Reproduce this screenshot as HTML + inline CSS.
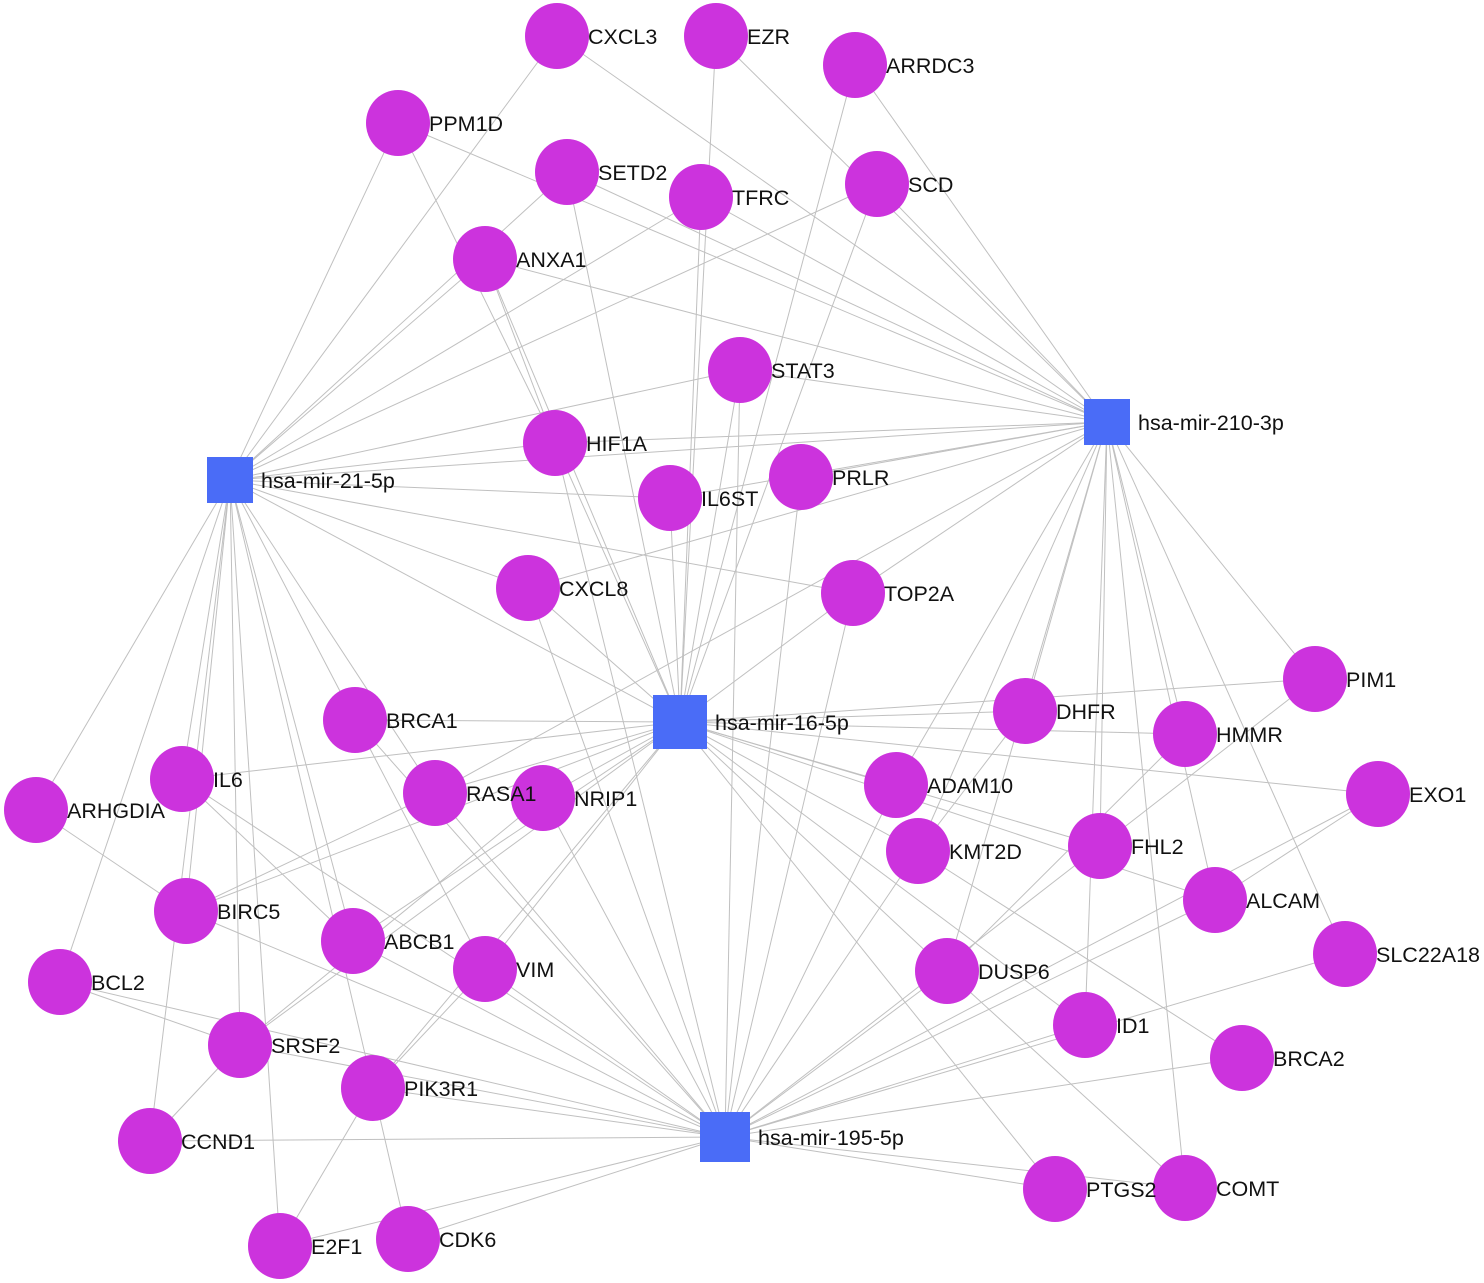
<!DOCTYPE html>
<html><head><meta charset="utf-8"><style>
html,body{margin:0;padding:0;background:#fff}
svg{display:block}
text{font-family:"Liberation Sans",Arial,sans-serif;font-size:21.5px;fill:#111}
</style></head><body>
<svg id="s" width="1484" height="1283" xmlns="http://www.w3.org/2000/svg">
<g id="edges" stroke="#c0c0c0" stroke-width="1" fill="none"></g>
<g id="nodes"></g>
</svg>
<script>
var N={CXCL3:[557,36],EZR:[716,36],ARRDC3:[855,65],PPM1D:[398,123],SETD2:[567,172],TFRC:[701,197],SCD:[877,184],ANXA1:[485,259],STAT3:[740,370],HIF1A:[555,443],IL6ST:[670,498],PRLR:[801,477],CXCL8:[528,588],TOP2A:[853,593],BRCA1:[355,720],DHFR:[1025,711],PIM1:[1315,679],HMMR:[1185,734],IL6:[182,779],ARHGDIA:[36,810],RASA1:[435,793],NRIP1:[543,798],ADAM10:[896,785],EXO1:[1378,794],KMT2D:[918,851],FHL2:[1100,846],BIRC5:[186,911],ALCAM:[1215,900],SLC22A18:[1345,954],ABCB1:[353,941],VIM:[485,969],DUSP6:[947,971],BCL2:[60,982],ID1:[1085,1025],BRCA2:[1242,1058],SRSF2:[240,1045],PIK3R1:[373,1088],CCND1:[150,1141],PTGS2:[1055,1189],COMT:[1185,1188],E2F1:[280,1246],CDK6:[408,1239]};
var H={"hsa-mir-21-5p":[230,480,46],"hsa-mir-210-3p":[1107,422,46],"hsa-mir-16-5p":[680,722,54],"hsa-mir-195-5p":[725,1137,50]};
var E={"hsa-mir-21-5p":"CXCL3 PPM1D SETD2 TFRC SCD ANXA1 STAT3 HIF1A IL6ST CXCL8 TOP2A BRCA1 RASA1 IL6 ARHGDIA BIRC5 BCL2 ABCB1 SRSF2 PIK3R1 CCND1 E2F1",
"hsa-mir-210-3p":"ARRDC3 SCD CXCL3 EZR PPM1D SETD2 TFRC ANXA1 STAT3 HIF1A IL6ST PRLR TOP2A DHFR PIM1 HMMR FHL2 ALCAM SLC22A18 ID1 COMT KMT2D ADAM10 DUSP6 RASA1 CXCL8 hsa-mir-21-5p",
"hsa-mir-16-5p":"SETD2 TFRC EZR STAT3 HIF1A IL6ST ANXA1 CXCL8 TOP2A BRCA1 IL6 RASA1 NRIP1 ADAM10 DHFR PIM1 HMMR EXO1 KMT2D FHL2 ALCAM DUSP6 ID1 PTGS2 VIM ABCB1 SRSF2 BIRC5 PIK3R1 SCD hsa-mir-21-5p ARRDC3",
"hsa-mir-195-5p":"BIRC5 IL6 RASA1 NRIP1 ABCB1 VIM SRSF2 PIK3R1 CCND1 CDK6 E2F1 PTGS2 COMT BRCA2 SLC22A18 ID1 ALCAM DUSP6 ADAM10 KMT2D FHL2 HIF1A CXCL8 PRLR TOP2A STAT3 BCL2 EXO1 BRCA1"};
var ex=[["PPM1D","HIF1A"],["ANXA1","HIF1A"],["BRCA1","VIM"],["IL6","ABCB1"],["ARHGDIA","BIRC5"],["BCL2","SRSF2"],["SRSF2","CCND1"],["PIK3R1","E2F1"],["PIK3R1","CDK6"],["VIM","PIK3R1"],["DHFR","KMT2D"],["HMMR","DUSP6"],["PIM1","FHL2"],["EXO1","ALCAM"],["KMT2D","BRCA2"],["DUSP6","COMT"],["RASA1","BIRC5"],["NRIP1","SRSF2"]];
var P=function(k){return N[k]||H[k];};
var eg=document.getElementById("edges"),ng=document.getElementById("nodes"),ns="http://www.w3.org/2000/svg";
function L(a,b){var p=P(a),q=P(b),l=document.createElementNS(ns,"line");l.setAttribute("x1",p[0]);l.setAttribute("y1",p[1]);l.setAttribute("x2",q[0]);l.setAttribute("y2",q[1]);eg.appendChild(l);}
for(var h in E)E[h].split(" ").forEach(function(t){L(h,t);});
ex.forEach(function(e){L(e[0],e[1]);});
function T(x,y,s){var t=document.createElementNS(ns,"text");t.setAttribute("x",x);t.setAttribute("y",y);t.textContent=s;ng.appendChild(t);}
for(var k in N){var c=document.createElementNS(ns,"ellipse");c.setAttribute("cx",N[k][0]);c.setAttribute("cy",N[k][1]);c.setAttribute("rx",32);c.setAttribute("ry",33);c.setAttribute("fill","#cc33dd");ng.appendChild(c);}
for(var k in N)T(N[k][0]+31,N[k][1]+8,k);
for(var k in H){var r=document.createElementNS(ns,"rect"),s=H[k][2];r.setAttribute("x",H[k][0]-s/2);r.setAttribute("y",H[k][1]-s/2);r.setAttribute("width",s);r.setAttribute("height",s);r.setAttribute("fill","#4a6cf7");ng.appendChild(r);T(H[k][0]+s/2+8,H[k][1]+8,k);}
</script>
</body></html>
